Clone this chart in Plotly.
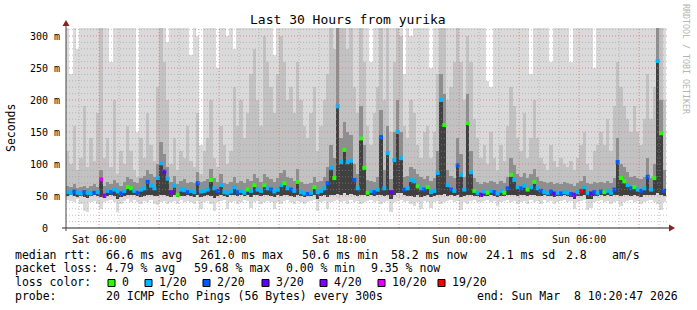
import pandas as pd
import plotly.graph_objects as go

# ---------------- data ----------------
START = "2026-03-07 04:20:47"
END = "2026-03-08 10:20:47"

median_ms = [
    56, 55, 57, 55, 54, 56, 55, 54, 55, 56,
    76, 50.6, 58, 56, 60, 57, 54, 58, 64, 62,
    58, 55, 60, 62, 72, 66, 62, 78, 101, 88,
    77, 56, 66, 52, 60, 59, 56, 58, 56, 70,
    57, 58, 60, 75, 62, 58, 67, 56, 55, 57,
    64, 56, 58, 55, 60, 58, 67, 60, 58, 67,
    62, 60, 57, 60, 67, 70, 62, 60, 58, 72,
    56, 54, 53, 55, 64, 56, 58, 62, 70, 94,
    78, 190, 103, 122, 103, 105, 75, 62, 140, 94,
    55, 58, 56, 60, 142, 62, 117, 56, 106, 150,
    109, 60, 62, 75, 73, 65, 62, 60, 64, 56,
    58, 86, 200, 161, 67, 60, 58, 98, 83, 60,
    164, 87, 58, 55, 52, 57, 55, 58, 56, 54,
    58, 55, 62, 83, 75, 64, 62, 66, 60, 64,
    72, 62, 58, 56, 55, 57, 54, 55, 54, 56,
    55, 53, 52, 56, 58, 64, 55, 54, 56, 55,
    57, 56, 58, 55, 60, 103, 78, 73, 67, 62,
    64, 60, 58, 62, 80, 60, 78, 261, 148, 58.2,
]

loss_idx = [
    1, 1, 2, 1, 1, 2, 1, 1, 2, 1,
    5, 4, 1, 2, 1, 1, 2, 1, 0, 0,
    1, 2, 1, 1, 2, 1, 1, 1, 1, 3,
    1, 4, 1, 0, 1, 1, 2, 1, 1, 2,
    1, 1, 1, 0, 1, 2, 1, 1, 1, 1,
    1, 2, 1, 1, 0, 1, 0, 1, 1, 0,
    1, 2, 1, 1, 1, 0, 1, 2, 1, 0,
    1, 1, 2, 1, 0, 1, 1, 1, 2, 1,
    0, 1, 1, 0, 1, 1, 2, 1, 0, 0,
    0, 1, 2, 1, 2, 1, 1, 3, 1, 1,
    1, 2, 1, 1, 1, 0, 1, 2, 0, 1,
    1, 1, 1, 0, 1, 2, 1, 2, 1, 1,
    0, 1, 0, 1, 3, 1, 0, 1, 2, 1,
    1, 0, 2, 0, 1, 1, 2, 1, 0, 1,
    0, 1, 2, 1, 1, 2, 3, 1, 2, 1,
    1, 2, 4, 1, 6, 1, 1, 3, 2, 1,
    2, 0, 1, 1, 2, 2, 0, 0, 1, 2,
    0, 1, 2, 1, 2, 1, 0, 1, 0, 2,
]

smoke_min = [
    44, 42, 40, 45, 38, 26, 25, 40, 42, 38,
    30, 40, 42, 44, 40, 25, 38, 42, 45, 40,
    44, 40, 38, 42, 40, 44, 38, 36, 40, 42,
    38, 40, 42, 38, 44, 40, 42, 40, 38, 42,
    30, 40, 42, 38, 27, 40, 42, 44, 30, 40,
    42, 38, 40, 44, 42, 32, 40, 42, 38, 40,
    42, 40, 30, 40, 38, 42, 44, 40, 38, 42,
    40, 38, 40, 42, 44, 26, 40, 42, 30, 40,
    42, 44, 40, 42, 38, 44, 40, 42, 38, 40,
    42, 44, 40, 42, 38, 40, 42, 25, 40, 42,
    44, 40, 42, 38, 35, 40, 30, 42, 40, 32,
    40, 42, 38, 40, 42, 44, 40, 42, 28, 40,
    38, 42, 44, 40, 40, 42, 44, 40, 42, 35,
    40, 42, 44, 40, 42, 38, 40, 42, 38, 44,
    40, 42, 38, 44, 40, 42, 38, 40, 42, 44,
    40, 42, 30, 40, 42, 44, 28, 31, 40, 42,
    44, 40, 42, 38, 40, 42, 35, 40, 42, 44,
    40, 42, 38, 40, 42, 44, 40, 38, 28, 40,
]

smoke_lo = [
    50, 51, 50, 49, 50, 48, 47, 50, 51, 50,
    48, 47, 50, 51, 50, 46, 49, 50, 52, 51,
    51, 50, 49, 50, 51, 52, 50, 50, 52, 51,
    50, 49, 51, 48, 50, 50, 51, 50, 49, 52,
    48, 50, 51, 50, 47, 50, 52, 50, 48, 51,
    52, 50, 51, 50, 52, 48, 51, 52, 50, 51,
    52, 50, 48, 51, 50, 52, 51, 50, 49, 52,
    50, 49, 50, 50, 51, 46, 50, 51, 48, 52,
    52, 53, 52, 54, 52, 53, 51, 50, 52, 52,
    50, 51, 50, 51, 52, 50, 52, 46, 52, 54,
    54, 51, 50, 50, 48, 51, 48, 50, 51, 48,
    50, 52, 52, 53, 50, 51, 50, 52, 48, 50,
    52, 52, 50, 50, 49, 50, 50, 51, 50, 48,
    50, 50, 51, 52, 52, 50, 51, 52, 50, 51,
    52, 50, 50, 51, 50, 50, 48, 50, 50, 51,
    50, 49, 46, 50, 50, 51, 46, 46, 50, 50,
    51, 50, 51, 50, 51, 52, 50, 52, 51, 50,
    51, 50, 49, 51, 52, 51, 52, 54, 52, 50,
]

smoke_mid = [
    66, 64, 68, 62, 64, 66, 63, 65, 68, 64,
    90, 66, 72, 68, 75, 70, 66, 72, 80, 76,
    72, 70, 78, 82, 90, 85, 80, 100, 135, 115,
    95, 72, 82, 68, 74, 76, 70, 72, 70, 88,
    72, 74, 76, 92, 78, 72, 84, 70, 68, 72,
    80, 70, 74, 70, 76, 74, 84, 78, 72, 84,
    80, 76, 72, 78, 86, 90, 80, 78, 74, 92,
    72, 68, 68, 70, 80, 72, 74, 80, 95, 130,
    110, 320, 140, 165, 150, 145, 100, 85, 190, 130,
    75, 74, 72, 80, 185, 90, 160, 76, 150, 200,
    150, 80, 82, 95, 92, 85, 80, 76, 82, 74,
    78, 120, 240, 210, 90, 82, 78, 140, 115, 80,
    210, 120, 78, 72, 68, 72, 70, 74, 72, 68,
    74, 70, 80, 110, 98, 84, 80, 86, 78, 84,
    92, 80, 74, 72, 70, 72, 68, 70, 68, 72,
    70, 68, 66, 70, 74, 82, 70, 68, 72, 70,
    72, 70, 74, 70, 78, 140, 100, 95, 88, 80,
    82, 78, 76, 80, 110, 78, 100, 320, 200, 90,
]

smoke_p90 = [
    120, 100, 160, 90, 110, 190, 95, 140, 105, 180,
    320, 110, 140, 95, 200, 85, 120, 100, 160, 120,
    90, 80, 140, 110, 180, 130, 105, 220, 320, 260,
    200, 100, 140, 90, 120, 110, 160, 105, 95, 180,
    85, 120, 140, 200, 110, 95, 160, 130, 100, 120,
    220, 160, 200, 140, 180, 240, 280, 200, 160, 300,
    260, 220, 180, 240, 300, 260, 200, 220, 180, 260,
    200, 160, 140, 180, 220, 120, 160, 200, 240, 320,
    280, 320, 320, 320, 280, 320, 220, 180, 320, 260,
    160, 130, 180, 220, 320, 200, 320, 150, 260, 320,
    300, 160, 140, 200, 180, 130, 110, 150, 160, 110,
    150, 240, 320, 320, 200, 220, 260, 320, 260, 200,
    300, 260, 170, 140, 110, 130, 100, 150, 110, 90,
    130, 105, 160, 220, 190, 140, 120, 180, 110, 140,
    200, 140, 110, 100, 90, 130, 105, 95, 110, 100,
    95, 105, 90, 110, 130, 150, 100, 90, 120, 130,
    150, 130, 170, 120, 190, 260, 220, 190, 170, 150,
    190, 150, 130, 170, 240, 170, 220, 320, 320, 200,
]

smoke_max = [
    320, 240, 320, 280, 320, 320, 320, 320, 320, 320,
    320, 320, 320, 260, 320, 320, 320, 320, 320, 320,
    320, 150, 320, 320, 320, 320, 320, 320, 320, 320,
    290, 320, 320, 320, 320, 320, 320, 270, 320, 300,
    130, 320, 320, 320, 320, 250, 320, 320, 300, 320,
    280, 320, 320, 320, 320, 320, 320, 320, 320, 320,
    320, 320, 270, 320, 320, 320, 320, 320, 320, 320,
    320, 320, 320, 320, 320, 320, 320, 320, 320, 320,
    320, 320, 320, 320, 320, 320, 320, 320, 320, 320,
    320, 260, 320, 320, 320, 320, 320, 320, 320, 320,
    320, 240, 320, 300, 320, 320, 320, 320, 320, 250,
    320, 320, 320, 320, 320, 320, 320, 320, 320, 320,
    320, 320, 320, 320, 320, 320, 230, 220, 320, 320,
    320, 320, 320, 320, 320, 320, 320, 320, 320, 240,
    320, 320, 320, 320, 320, 260, 320, 320, 320, 320,
    320, 260, 320, 320, 320, 320, 320, 320, 250, 320,
    320, 320, 320, 320, 320, 320, 320, 320, 320, 320,
    320, 320, 320, 320, 320, 320, 320, 320, 320, 320,
]

loss_colors = ["#26ff00", "#00b8ff", "#0059ff", "#5e00ff", "#7e00ff", "#dd00ff", "#ff0000"]
loss_labels = ["0", "1/20", "2/20", "3/20", "4/20", "10/20", "19/20"]

y_tickvals = [0, 50, 100, 150, 200, 250, 300]
y_ticktext = ["0\u00a0\u00a0", "50 m", "100 m", "150 m", "200 m", "250 m", "300 m"]

x_tickvals = ["2026-03-07 06:00", "2026-03-07 09:00", "2026-03-07 12:00", "2026-03-07 15:00",
              "2026-03-07 18:00", "2026-03-07 21:00", "2026-03-08 00:00", "2026-03-08 03:00",
              "2026-03-08 06:00", "2026-03-08 09:00"]
x_ticktext = ["Sat 06:00", "", "Sat 12:00", "", "Sat 18:00", "", "Sun 00:00", "", "Sun 06:00", ""]

title_text = "Last 30 Hours from yurika"
stats_rtt = ["median rtt:", "66.6 ms avg", "261.0 ms max", "50.6 ms min", "58.2 ms now", "24.1 ms sd", "2.8", "am/s"]
stats_loss = ["packet loss:", "4.79 % avg", "59.68 % max", "0.00 % min", "9.35 % now"]
probe_text = ["probe:", "20 ICMP Echo Pings (56 Bytes) every 300s", "end: Sun Mar  8 10:20:47 2026"]

# ---------------- layout geometry ----------------
W_FIG, H_FIG = 697, 310
L, T, PW, PH = 66, 28, 600, 200
Y_MAX = 312.5
MONO = "DejaVu Sans Mono"


def px(x):
    return (x - L) / PW


def py(y):
    return (T + PH - y) / PH


n = len(median_ms)
t0 = pd.Timestamp(START)
centers = [t0 + pd.Timedelta(minutes=10 * i + 5) for i in range(n)]
bar_w = 10 * 60 * 1000

fig = go.Figure()


def band(lo, hi, color):
    fig.add_trace(go.Bar(
        x=centers, y=[h - l for l, h in zip(lo, hi)], base=lo, width=bar_w,
        marker=dict(color=color, line=dict(width=0)), hoverinfo="skip", showlegend=False,
    ))


band(smoke_min, smoke_max, "#dadada")
band(smoke_lo, smoke_p90, "#c2c2c2")
band(smoke_lo, smoke_mid, "#8e8e8e")
band(smoke_lo, [max(m, l) for m, l in zip(median_ms, smoke_lo)], "#404040")

fig.add_trace(go.Scatter(
    x=centers, y=median_ms, mode="markers",
    marker=dict(symbol="square", size=4, color=[loss_colors[k] for k in loss_idx], line=dict(width=0)),
    hoverinfo="skip", showlegend=False,
))

shapes = []
GRID_MAJOR = "rgba(220,110,110,0.75)"
GRID_MINOR = "rgba(150,150,150,0.55)"
for v in range(10, 320, 10):
    major = v % 50 == 0
    shapes.append(dict(type="line", xref="paper", yref="y", x0=0, x1=px(668), y0=v, y1=v,
                       layer="above",
                       line=dict(color=GRID_MAJOR if major else GRID_MINOR, width=1, dash="1px,2px")))
hours = pd.date_range("2026-03-07 05:00", "2026-03-08 10:00", freq="1h")
for h in hours:
    major = h.hour % 3 == 0
    shapes.append(dict(type="line", xref="x", yref="paper", x0=h, x1=h, y0=0, y1=1,
                       layer="above",
                       line=dict(color=GRID_MAJOR if major else GRID_MINOR, width=1, dash="1px,2px")))
shapes.append(dict(type="line", xref="paper", yref="paper", x0=px(62), x1=px(670), y0=0, y1=0,
                   layer="above", line=dict(color="#222222", width=1)))
shapes.append(dict(type="line", xref="paper", yref="paper", x0=px(66), x1=px(66), y0=py(231), y1=py(25),
                   layer="above", line=dict(color="#444444", width=1)))
shapes.append(dict(type="path", xref="paper", yref="paper",
                   path=f"M {px(669)},{py(224.5)} L {px(675)},{py(228)} L {px(669)},{py(231.5)} Z",
                   fillcolor="#8b1e1e", line=dict(width=0), layer="above"))
shapes.append(dict(type="path", xref="paper", yref="paper",
                   path=f"M {px(62.5)},{py(26)} L {px(66)},{py(20)} L {px(69.5)},{py(26)} Z",
                   fillcolor="#8b1e1e", line=dict(width=0), layer="above"))

annotations = []


def txt(x, y, s, size=11.5, color="#000000", anchor="left", angle=0):
    annotations.append(dict(xref="paper", yref="paper", x=px(x), y=py(y), text=s.replace(" ", "\u00a0"),
                            showarrow=False, xanchor=anchor, yanchor="middle", textangle=angle,
                            borderpad=0, borderwidth=0,
                            font=dict(family=MONO, size=size, color=color)))


txt(348, 19, title_text, size=13, anchor="center")
txt(11, 128, "Seconds", size=11.5, anchor="center", angle=-90)
txt(686, 59, "RRDTOOL / TOBI OETIKER", size=8.3, color="#b4b4b4", anchor="center", angle=90)

rtt_x = [15, 106, 200, 302, 391, 486, 566, 612]
for xx, s in zip(rtt_x, stats_rtt):
    txt(xx, 255, s)
loss_x = [15, 106, 194, 286, 371]
for xx, s in zip(loss_x, stats_loss):
    txt(xx, 268, s)
txt(15, 282, "loss color:")
sq_x = [108, 145, 203, 262, 320, 378, 438]
for xx, c, lab in zip(sq_x, loss_colors, loss_labels):
    shapes.append(dict(type="rect", xref="paper", yref="paper", x0=px(xx), x1=px(xx + 7),
                       y0=py(286.5), y1=py(279.5), fillcolor=c, line=dict(color="#000000", width=1)))
    txt(xx + 14, 282, lab)
probe_x = [15, 106, 477]
for xx, s in zip(probe_x, probe_text):
    txt(xx, 296, s)

fig.update_layout(
    width=W_FIG, height=H_FIG, autosize=False,
    margin=dict(l=L, r=W_FIG - L - PW, t=T, b=H_FIG - T - PH, pad=0),
    paper_bgcolor="#ffffff", plot_bgcolor="#ffffff",
    barmode="overlay", bargap=0, showlegend=False,
    shapes=shapes, annotations=annotations,
    xaxis=dict(type="date", range=[START, END], tickmode="array", tickvals=x_tickvals, ticktext=x_ticktext,
               showgrid=False, zeroline=False, showline=False, ticks="outside", ticklen=2,
               tickcolor="rgba(0,0,0,0)", tickfont=dict(family=MONO, size=10, color="#000000")),
    yaxis=dict(range=[0, Y_MAX], tickmode="array", tickvals=y_tickvals, ticktext=y_ticktext,
               showgrid=False, zeroline=False, showline=False, ticks="outside", ticklen=3,
               tickcolor="rgba(0,0,0,0)", tickfont=dict(family=MONO, size=10, color="#000000")),
)

fig.write_html("out.html", config={"displayModeBar": False})
